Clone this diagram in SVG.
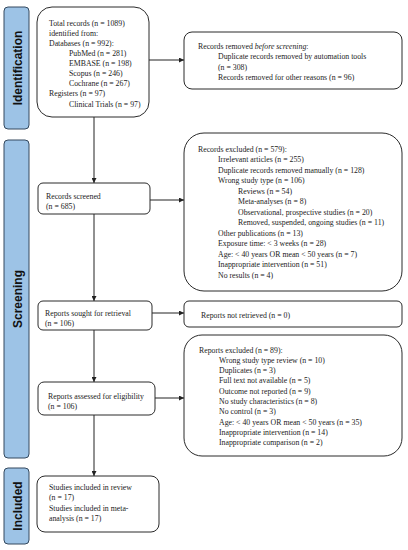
<svg xmlns="http://www.w3.org/2000/svg" width="408" height="550" viewBox="0 0 408 550">
<style>
.side{fill:#9dc3e6;stroke:#34495e;stroke-width:1}
.box{fill:#fff;stroke:#2a2a2a;stroke-width:1}
.t{font-family:"Liberation Serif","Times New Roman",serif;font-size:7.8px;fill:#222}
.lab{font-family:"Liberation Sans",Arial,sans-serif;font-size:12px;font-weight:bold;fill:#111}
.c{stroke:#222;stroke-width:1;fill:none}
</style>
<defs>
<marker id="ah" viewBox="0 0 6 6" refX="6" refY="3" markerWidth="5" markerHeight="5" orient="auto" markerUnits="userSpaceOnUse">
<path d="M0,0 L6,3 L0,6 z" fill="#222"/>
</marker>
</defs>
<rect width="408" height="550" fill="#fff"/>

<g id="phase-identification">
<rect class="side" x="4" y="7" width="25" height="122" rx="4"/>
<text class="lab" transform="translate(21.5,68) rotate(-90)" text-anchor="middle">Identification</text>
</g>
<g id="phase-screening">
<rect class="side" x="4" y="140" width="25" height="318" rx="4"/>
<text class="lab" transform="translate(21.5,299) rotate(-90)" text-anchor="middle">Screening</text>
</g>
<g id="phase-included">
<rect class="side" x="4" y="468" width="25" height="76" rx="4"/>
<text class="lab" transform="translate(21.5,506) rotate(-90)" text-anchor="middle">Included</text>
</g>

<g id="connectors">
<line class="c" x1="149" y1="60" x2="184" y2="60" marker-end="url(#ah)"/>
<line class="c" x1="94" y1="117" x2="94" y2="183" marker-end="url(#ah)"/>
<line class="c" x1="150" y1="200" x2="184" y2="200" marker-end="url(#ah)"/>
<line class="c" x1="94" y1="214" x2="94" y2="301" marker-end="url(#ah)"/>
<line class="c" x1="152" y1="313" x2="184" y2="313" marker-end="url(#ah)"/>
<line class="c" x1="94" y1="330" x2="94" y2="382" marker-end="url(#ah)"/>
<line class="c" x1="155" y1="398" x2="184" y2="398" marker-end="url(#ah)"/>
<line class="c" x1="94" y1="415" x2="94" y2="476" marker-end="url(#ah)"/>
</g>

<g id="identified">
<rect class="box" x="37" y="7" width="112" height="110" rx="15"/>
<text class="t" x="49" y="26">Total records (n = 1089)</text>
<text class="t" x="49" y="36">identified from:</text>
<text class="t" x="49" y="46">Databases (n = 992):</text>
<text class="t" x="69" y="56">PubMed (n = 281)</text>
<text class="t" x="69" y="66">EMBASE (n = 198)</text>
<text class="t" x="69" y="76">Scopus (n = 246)</text>
<text class="t" x="69" y="86">Cochrane (n = 267)</text>
<text class="t" x="49" y="96">Registers (n = 97)</text>
<text class="t" x="69" y="106.5">Clinical Trials (n = 97)</text>
</g>

<g id="removed">
<rect class="box" x="184" y="32" width="218" height="57" rx="8"/>
<text class="t" x="198" y="48.5">Records removed <tspan font-style="italic">before screening</tspan>:</text>
<text class="t" x="218" y="59">Duplicate records removed by automation tools</text>
<text class="t" x="218" y="69.5">(n = 308)</text>
<text class="t" x="218" y="79.5">Records removed for other reasons (n = 96)</text>
</g>

<g id="screened">
<rect class="box" x="38" y="183" width="112" height="31" rx="5"/>
<text class="t" x="46" y="198.5">Records screened</text>
<text class="t" x="46" y="208.5">(n = 685)</text>
</g>

<g id="excluded">
<rect class="box" x="184" y="133" width="218" height="158" rx="20"/>
<text class="t" x="198" y="151.5">Records excluded (n = 579):</text>
<text class="t" x="218" y="162">Irrelevant articles (n = 255)</text>
<text class="t" x="218" y="172.5">Duplicate records removed manually (n = 128)</text>
<text class="t" x="218" y="183">Wrong study type (n = 106)</text>
<text class="t" x="238" y="193.5">Reviews (n = 54)</text>
<text class="t" x="238" y="204">Meta-analyses (n = 8)</text>
<text class="t" x="238" y="214.5">Observational, prospective studies (n = 20)</text>
<text class="t" x="238" y="225">Removed, suspended, ongoing studies (n = 11)</text>
<text class="t" x="218" y="235.5">Other publications (n = 13)</text>
<text class="t" x="218" y="246">Exposure time: &lt; 3 weeks (n = 28)</text>
<text class="t" x="218" y="256.5">Age: &lt; 40 years OR mean &lt; 50 years (n = 7)</text>
<text class="t" x="218" y="267">Inappropriate intervention (n = 51)</text>
<text class="t" x="218" y="277.5">No results (n = 4)</text>
</g>

<g id="sought">
<rect class="box" x="38" y="301" width="114" height="29" rx="5"/>
<text class="t" x="45" y="315.5">Reports sought for retrieval</text>
<text class="t" x="45" y="325.5">(n = 106)</text>
</g>

<g id="not-retrieved">
<rect class="box" x="184" y="301" width="218" height="26" rx="5"/>
<text class="t" x="201" y="317.5">Reports not retrieved (n = 0)</text>
</g>

<g id="assessed">
<rect class="box" x="38" y="382" width="117" height="33" rx="6"/>
<text class="t" x="48" y="398.5">Reports assessed for eligibility</text>
<text class="t" x="48" y="408.5">(n = 106)</text>
</g>

<g id="reports-excluded">
<rect class="box" x="184" y="335" width="218" height="121" rx="18"/>
<text class="t" x="199" y="352.5">Reports excluded (n = 89):</text>
<text class="t" x="219" y="362.8">Wrong study type review (n = 10)</text>
<text class="t" x="219" y="373.1">Duplicates (n = 3)</text>
<text class="t" x="219" y="383.4">Full text not available (n = 5)</text>
<text class="t" x="219" y="393.7">Outcome not reported (n = 9)</text>
<text class="t" x="219" y="404">No study characteristics (n = 8)</text>
<text class="t" x="219" y="414.3">No control (n = 3)</text>
<text class="t" x="219" y="424.6">Age: &lt; 40 years OR mean &lt; 50 years (n = 35)</text>
<text class="t" x="219" y="434.9">Inappropriate intervention (n = 14)</text>
<text class="t" x="219" y="445.2">Inappropriate comparison (n = 2)</text>
</g>

<g id="included">
<rect class="box" x="37" y="476" width="122" height="56" rx="8"/>
<text class="t" x="49" y="489.5">Studies included in review</text>
<text class="t" x="49" y="499.5">(n = 17)</text>
<text class="t" x="49" y="510.5">Studies included in meta-</text>
<text class="t" x="49" y="520.5">analysis (n = 17)</text>
</g>
</svg>
